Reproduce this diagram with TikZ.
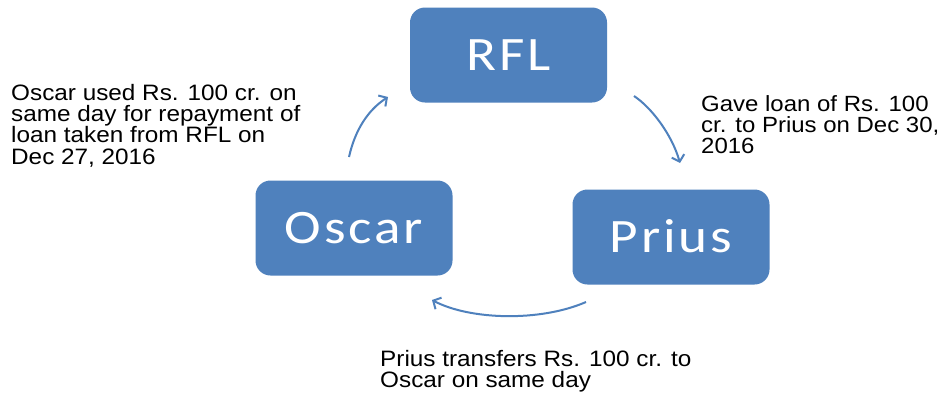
\documentclass[tikz,border=0pt]{standalone}
\usepackage{fontspec}
\setmainfont{Liberation Sans}[FakeStretch=1.09]
\newfontfamily\boxfont{Carlito}[FakeStretch=1.15,LetterSpace=6]
\usetikzlibrary{arrows.meta}
\definecolor{ablue}{HTML}{4F81BD}
\tikzset{
  entity/.style={rectangle, rounded corners=15pt, fill=ablue, draw=none,
    minimum width=197pt, minimum height=95pt, inner sep=0pt,
    text=white, font=\boxfont\fontsize{48}{48}\selectfont,
    text height=30pt, text depth=0pt},
  note/.style={anchor=north west, inner sep=0pt, align=left,
    font=\fontsize{22.3}{21.3}\selectfont, text=black},
  flow/.style={draw=ablue, line width=2pt,
    -{Straight Barb[length=6pt,width=13pt]}}
}
\begin{document}
\begin{tikzpicture}[x=1pt,y=-1pt]
\fill[white] (0,0) rectangle (942,394);
\useasboundingbox (0,0) rectangle (942,394);
\node[entity] (rfl) at (508.5,55) {RFL};
\node[entity] (oscar) at (354,228) {Oscar};
\node[entity] (prius) at (671,237) {Prius};
\node[note] (n1) at (11,84) {Oscar used Rs. 100 cr. on\\same day for repayment of\\loan taken from RFL on\\Dec 27, 2016};
\node[note, font=\fontsize{22}{21.3}\selectfont] (n2) at (701,95) {Gave loan of Rs. 100\\cr. to Prius on Dec 30,\\2016};
\node[note] (n3) at (380,350) {Prius transfers Rs. 100 cr. to\\Oscar on same day};
\coordinate (a1s) at (349,157);
\coordinate (a1e) at (388,97);
\coordinate (a2s) at (634,96);
\coordinate (a2e) at (680,163);
\coordinate (a3s) at (586,302);
\coordinate (a3e) at (432,300);
\draw[flow] (a1s) .. controls (355,130) and (368,110) .. (a1e);
\draw[flow] (a2s) .. controls (652,108) and (672,135) .. (a2e);
\draw[flow] (a3s) .. controls (540,322) and (470,320) .. (a3e);
\end{tikzpicture}
\end{document}
